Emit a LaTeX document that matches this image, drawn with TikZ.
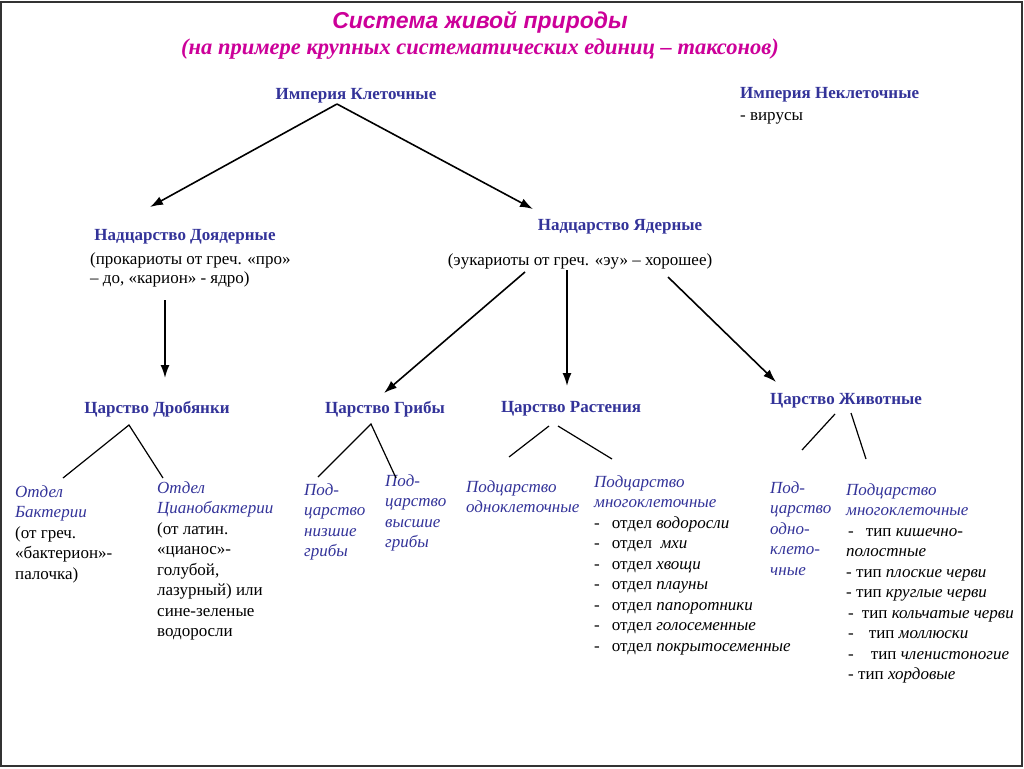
\documentclass[tikz,border=0pt]{standalone}
\usepackage{fontspec}
\setmainfont{Liberation Serif}
\newfontfamily\arialfont{Liberation Sans}
\usetikzlibrary{arrows.meta}
\definecolor{headblue}{RGB}{51,51,153}
\definecolor{titlemag}{RGB}{204,0,153}
\newcommand{\bl}[1]{\textcolor{headblue}{\itshape #1}}
\tikzset{
  head/.style={font=\fontsize{17}{20}\selectfont\bfseries, text=headblue, inner sep=0pt},
  txt/.style={font=\fontsize{17}{20.5}\selectfont, align=left, anchor=north west, inner sep=0pt},
  arr/.style={-{Latex[length=13pt,width=9pt]}, line width=1.6pt},
  brn/.style={line width=1.2pt}
}
\begin{document}
\begin{tikzpicture}[x=1pt,y=-1pt]
\useasboundingbox (0,0) rectangle (1024,768);
\draw[line width=2pt,black!80] (1,2) rectangle (1022,766);
% title
\node[font=\arialfont\fontsize{23}{25}\selectfont\bfseries\itshape, text=titlemag] (title) at (480,22) {Система живой природы};
\node[font=\fontsize{22.5}{25}\selectfont\bfseries\itshape, text=titlemag] (subtitle) at (480,49) {(на примере крупных систематических единиц – таксонов)};
% empires
\node[head] (imp) at (356,96) {Империя Клеточные};
\node[txt,font=\fontsize{17}{22}\selectfont] (nekl) at (740,87) {\textcolor{headblue}{\bfseries Империя Неклеточные}\\- вирусы};
% superkingdoms
\node[head] (nad1) at (185,237) {Надцарство Доядерные};
\node[txt,font=\fontsize{17}{19}\selectfont] (prok) at (90,253) {(прокариоты от греч. «про»\\– до, «карион» - ядро)};
\node[head] (nad2) at (620,227) {Надцарство Ядерные};
\node[font=\fontsize{17}{20}\selectfont, inner sep=0pt] (euk) at (580,261) {(эукариоты от греч. «эу» – хорошее)};
% kingdoms
\node[head] (drob) at (157,409) {Царство Дробянки};
\node[head] (grib) at (385,409) {Царство Грибы};
\node[head] (rast) at (571,409) {Царство Растения};
\node[head] (zhiv) at (846,401) {Царство Животные};
% lower ranks
\node[txt] (bakt) at (15,485) {\bl{Отдел}\\\bl{Бактерии}\\(от греч.\\«бактерион»-\\палочка)};
\node[txt] (cyan) at (157,481) {\bl{Отдел}\\\bl{Цианобактерии}\\(от латин.\\«цианос»-\\голубой,\\лазурный) или\\сине-зеленые\\водоросли};
\node[txt] (nizsh) at (304,483) {\bl{Под-}\\\bl{царство}\\\bl{низшие}\\\bl{грибы}};
\node[txt] (vyssh) at (385,474) {\bl{Под-}\\\bl{царство}\\\bl{высшие}\\\bl{грибы}};
\node[txt] (odnoR) at (466,480) {\bl{Подцарство}\\\bl{одноклеточные}};
\node[txt] (mnogoR) at (594,475) {\bl{Подцарство}\\\bl{многоклеточные}\\
  -\hspace{12pt}отдел \textit{водоросли}\\
  -\hspace{12pt}отдел \ \textit{мхи}\\
  -\hspace{12pt}отдел \textit{хвощи}\\
  -\hspace{12pt}отдел \textit{плауны}\\
  -\hspace{12pt}отдел \textit{папоротники}\\
  -\hspace{12pt}отдел \textit{голосеменные}\\
  -\hspace{12pt}отдел \textit{покрытосеменные}};
\node[txt] (odnoZ) at (770,481) {\bl{Под-}\\\bl{царство}\\\bl{одно-}\\\bl{клето-}\\\bl{чные}};
\node[txt] (mnogoZ) at (846,483) {\bl{Подцарство}\\\bl{многоклеточные}\\
  \hspace{2pt}-\hspace{12pt}тип \textit{кишечно-}\\
  \textit{полостные}\\
  - тип \textit{плоские черви}\\
  - тип \textit{круглые черви}\\
  \hspace{2pt}-\hspace{8pt}тип \textit{кольчатые черви}\\
  \hspace{2pt}-\hspace{15pt}тип \textit{моллюски}\\
  \hspace{2pt}-\hspace{17pt}тип \textit{членистоногие}\\
  \hspace{2pt}- тип \textit{хордовые}};
% connector ends
\coordinate (impA) at (337,104);
\coordinate (nad1T) at (150,207);
\coordinate (nad2T) at (533,209);
\coordinate (prokB) at (165,300);
\coordinate (drobT) at (165,378);
\coordinate (eukL) at (525,272);
\coordinate (eukM) at (567,270);
\coordinate (eukR) at (668,277);
\coordinate (gribT) at (384,393);
\coordinate (rastT) at (567,386);
\coordinate (zhivT) at (776,382);
\coordinate (drobA) at (129,425);
\coordinate (gribA) at (371,424);
\coordinate (rastAL) at (549,426);
\coordinate (rastAR) at (558,426);
\coordinate (zhivAL) at (835,414);
\coordinate (zhivAR) at (851,413);
\coordinate (baktT) at (63,478);
\coordinate (cyanT) at (163,478);
\coordinate (nizshT) at (318,477);
\coordinate (vysshT) at (396,478);
\coordinate (odnoRT) at (509,457);
\coordinate (mnogoRT) at (612,459);
\coordinate (odnoZT) at (802,450);
\coordinate (mnogoZT) at (866,459);
% arrows
\draw[arr] (impA) -- (nad1T);
\draw[arr] (impA) -- (nad2T);
\draw[arr] (prokB) -- (drobT);
\draw[arr] (eukL) -- (gribT);
\draw[arr] (eukM) -- (rastT);
\draw[arr] (eukR) -- (zhivT);
% branches
\draw[brn] (baktT) -- (drobA) -- (cyanT);
\draw[brn] (nizshT) -- (gribA) -- (vysshT);
\draw[brn] (odnoRT) -- (rastAL);
\draw[brn] (rastAR) -- (mnogoRT);
\draw[brn] (odnoZT) -- (zhivAL);
\draw[brn] (zhivAR) -- (mnogoZT);
\end{tikzpicture}
\end{document}
